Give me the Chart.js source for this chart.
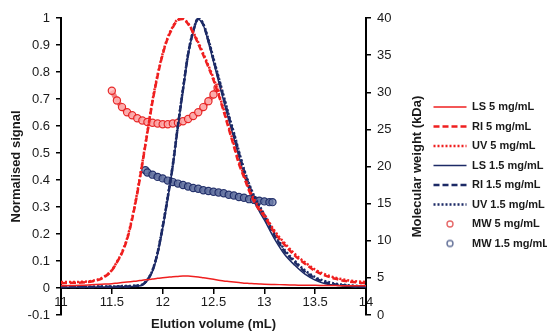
<!DOCTYPE html>
<html lang="en">
<head>
<meta charset="UTF-8">
<title>Elution profiles</title>
<script src="https://cdn.jsdelivr.net/npm/chart.js"></script>
<style>
  body { margin: 0; background: #fff; }
  .chart-box { width: 547px; height: 333px; position: relative; }
</style>
</head>
<body>
<div class="chart-box"><canvas id="chart"></canvas></div>
<script>
// elution volume grid (mL) shared by the detector traces
const elutionX = [11.0, 11.1, 11.2, 11.3, 11.4,
  11.5, 11.55, 11.6, 11.65, 11.7, 11.75, 11.8, 11.85, 11.9, 11.95,
  12.0, 12.05, 12.1, 12.15, 12.2, 12.25, 12.3, 12.35, 12.4, 12.45,
  12.5, 12.55, 12.6, 12.65, 12.7, 12.75, 12.8, 12.85, 12.9, 12.95, 13.0,
  13.1, 13.2, 13.3, 13.4, 13.5, 13.6, 13.7, 13.8, 13.9, 14.0];

// normalised signals, 5 mg/mL
const ls5 = [0.008, 0.009, 0.010, 0.012, 0.014,
  0.016, 0.018, 0.020, 0.022, 0.024, 0.026, 0.029, 0.031, 0.033, 0.036,
  0.038, 0.040, 0.042, 0.043, 0.044, 0.044, 0.043, 0.041, 0.038, 0.035,
  0.032, 0.029, 0.026, 0.024, 0.022, 0.020, 0.018, 0.017, 0.016, 0.015, 0.014,
  0.013, 0.012, 0.011, 0.010, 0.010, 0.009, 0.009, 0.008, 0.008, 0.008];
const ri5 = [0.018, 0.019, 0.020, 0.024, 0.035,
  0.065, 0.095, 0.13, 0.18, 0.255, 0.35, 0.46, 0.575, 0.69, 0.785,
  0.865, 0.925, 0.965, 0.993, 0.996, 0.978, 0.945, 0.905, 0.862, 0.818,
  0.77, 0.715, 0.655, 0.59, 0.525, 0.46, 0.41, 0.36, 0.32, 0.29, 0.265,
  0.205, 0.16, 0.12, 0.09, 0.063, 0.046, 0.034, 0.026, 0.021, 0.018];
const uv5 = [0.022, 0.022, 0.023, 0.026, 0.037,
  0.066, 0.097, 0.133, 0.184, 0.26, 0.355, 0.465, 0.58, 0.695, 0.79,
  0.868, 0.928, 0.968, 0.995, 0.997, 0.98, 0.948, 0.91, 0.868, 0.824,
  0.777, 0.722, 0.662, 0.598, 0.533, 0.468, 0.418, 0.368, 0.328, 0.297, 0.272,
  0.212, 0.166, 0.126, 0.095, 0.068, 0.05, 0.038, 0.03, 0.025, 0.022];

// normalised signals, 1.5 mg/mL
const ls15 = [0.003, 0.003, 0.003, 0.003, 0.004,
  0.004, 0.004, 0.005, 0.005, 0.006, 0.007, 0.011, 0.028, 0.062, 0.125,
  0.22, 0.33, 0.45, 0.595, 0.73, 0.86, 0.947, 0.994, 0.973, 0.91,
  0.838, 0.765, 0.693, 0.622, 0.556, 0.486, 0.42, 0.365, 0.32, 0.285, 0.252,
  0.182, 0.124, 0.084, 0.051, 0.029, 0.016, 0.010, 0.007, 0.005, 0.005];
const ri15 = [0.004, 0.004, 0.004, 0.004, 0.005,
  0.005, 0.005, 0.006, 0.006, 0.007, 0.008, 0.012, 0.03, 0.065, 0.13,
  0.225, 0.335, 0.455, 0.6, 0.735, 0.865, 0.95, 0.998, 0.975, 0.915,
  0.845, 0.775, 0.705, 0.635, 0.57, 0.5, 0.435, 0.38, 0.335, 0.3, 0.265,
  0.195, 0.135, 0.095, 0.06, 0.036, 0.021, 0.013, 0.009, 0.006, 0.005];
const uv15 = [0.005, 0.005, 0.005, 0.005, 0.006,
  0.006, 0.006, 0.007, 0.007, 0.008, 0.009, 0.013, 0.031, 0.066, 0.132,
  0.228, 0.338, 0.458, 0.603, 0.738, 0.867, 0.952, 0.998, 0.978, 0.92,
  0.85, 0.781, 0.711, 0.641, 0.576, 0.506, 0.441, 0.386, 0.341, 0.306, 0.271,
  0.201, 0.141, 0.1, 0.065, 0.04, 0.025, 0.016, 0.011, 0.008, 0.007];

// molecular weight (kDa), right axis
const mw5X = [11.50, 11.55, 11.60, 11.65, 11.70, 11.75, 11.80, 11.85, 11.90, 11.95, 12.00,
  12.05, 12.10, 12.15, 12.20, 12.25, 12.30, 12.35, 12.40, 12.45, 12.50, 12.54];
const mw5Y = [30.2, 28.9, 28.0, 27.3, 26.9, 26.5, 26.2, 26.0, 25.9, 25.8, 25.7,
  25.7, 25.8, 25.9, 26.1, 26.4, 26.8, 27.3, 28.0, 28.8, 29.7, 30.6];
const mw15X = [11.83, 11.85, 11.90, 11.95, 12.00, 12.05, 12.10, 12.15, 12.20, 12.25, 12.30,
  12.35, 12.40, 12.45, 12.50, 12.55, 12.60, 12.65, 12.70, 12.75, 12.80, 12.85, 12.90,
  12.95, 13.00, 13.05, 13.08];
const mw15Y = [19.5, 19.2, 18.9, 18.6, 18.4, 18.1, 17.9, 17.7, 17.5, 17.3, 17.1,
  17.0, 16.8, 16.7, 16.6, 16.5, 16.4, 16.2, 16.1, 15.9, 15.8, 15.6, 15.5,
  15.4, 15.3, 15.2, 15.2];

const red = '#ef1f1f';
const navy = '#1c2a66';
const textColor = '#1a1a1a';

Chart.defaults.font.family = '"Liberation Sans", Arial, sans-serif';
Chart.defaults.color = textColor;

function pts(xs, ys) {
  return xs.map((x, i) => ({ x: x, y: ys[i] }));
}

// small hollow circle used as the legend marker of the MW series
function circleIcon(color) {
  const c = document.createElement('canvas');
  c.width = 10;
  c.height = 10;
  const g = c.getContext('2d');
  g.strokeStyle = color;
  g.lineWidth = 1.4;
  g.beginPath();
  g.arc(5, 5, 3, 0, Math.PI * 2);
  g.stroke();
  return c;
}

function trace(label, data, color, width, dash) {
  return {
    label: label,
    data: data,
    borderColor: color,
    backgroundColor: color,
    borderWidth: width,
    borderDash: dash,
    pointRadius: 0,
    cubicInterpolationMode: 'monotone',
    yAxisID: 'y'
  };
}

function mwSeries(label, data, line, edge, fill, icon) {
  return {
    label: label,
    data: data,
    yAxisID: 'y2',
    showLine: true,
    borderColor: line,
    borderWidth: 5,
    cubicInterpolationMode: 'monotone',
    pointRadius: 3.6,
    pointBorderWidth: 1.2,
    pointBorderColor: edge,
    pointBackgroundColor: fill,
    legendIcon: icon
  };
}

// Excel-style right axis title reads bottom to top
const rightTitle = {
  id: 'rightTitle',
  afterDraw(chart) {
    const a = chart.chartArea;
    const ctx = chart.ctx;
    ctx.save();
    ctx.translate(417, (a.top + a.bottom) / 2);
    ctx.rotate(-Math.PI / 2);
    ctx.font = 'bold 13px "Liberation Sans", Arial, sans-serif';
    ctx.fillStyle = textColor;
    ctx.textAlign = 'center';
    ctx.textBaseline = 'middle';
    ctx.fillText('Molecular weight (kDa)', 0, 0);
    ctx.restore();
  }
};

// move the legend block to where it sits in the figure
const legendPlace = {
  id: 'legendPlace',
  afterLayout(chart) {
    const lg = chart.legend;
    lg.left = 425;
    lg.right = 547;
    lg.top = 93;
    lg.bottom = 333;
  }
};

const axisLine = { color: '#000', width: 2 };
const tickFont = { size: 13 };
const titleFont = { size: 13, weight: 'bold' };

new Chart(document.getElementById('chart'), {
  type: 'line',
  data: {
    datasets: [
      trace('LS 5 mg/mL', pts(elutionX, ls5), red, 1.5, []),
      trace('RI 5 mg/mL', pts(elutionX, ri5), red, 2.5, [6, 3]),
      trace('UV 5 mg/mL', pts(elutionX, uv5), red, 2.5, [2, 2]),
      trace('LS 1.5 mg/mL', pts(elutionX, ls15), navy, 1.5, []),
      trace('RI 1.5 mg/mL', pts(elutionX, ri15), navy, 2.5, [6, 3]),
      trace('UV 1.5 mg/mL', pts(elutionX, uv15), navy, 2.5, [2, 2]),
      mwSeries('MW 5 mg/mL', pts(mw5X, mw5Y), 'rgba(235, 45, 45, 0.6)',
        'rgba(230, 30, 30, 0.95)', 'rgba(255, 185, 185, 0.75)', circleIcon('#e66a6a')),
      mwSeries('MW 1.5 mg/mL', pts(mw15X, mw15Y), 'rgba(28, 42, 102, 0.65)',
        'rgba(28, 42, 102, 0.95)', 'rgba(110, 125, 170, 0.75)', circleIcon('#66739a'))
    ]
  },
  options: {
    responsive: true,
    maintainAspectRatio: false,
    animation: false,
    layout: { padding: { top: 18, bottom: 18, left: 0, right: 0 } },
    plugins: {
      tooltip: { enabled: false },
      legend: {
        position: 'right',
        align: 'start',
        labels: {
          usePointStyle: true,
          pointStyleWidth: 33,
          padding: 8.5,
          color: textColor,
          font: { size: 11, weight: 'bold' },
          generateLabels(chart) {
            const items = Chart.defaults.plugins.legend.labels.generateLabels(chart);
            items.forEach(item => {
              const ds = chart.data.datasets[item.datasetIndex];
              if (ds.legendIcon) {
                item.pointStyle = ds.legendIcon;
              } else {
                item.pointStyle = 'line';
                item.strokeStyle = ds.borderColor;
                item.lineWidth = ds.borderWidth;
                item.lineDash = ds.borderDash;
              }
            });
            return items;
          }
        }
      }
    },
    scales: {
      x: {
        type: 'linear',
        min: 11,
        max: 14,
        position: { y: 0 },
        ticks: {
          stepSize: 0.5,
          font: tickFont,
          color: textColor,
          padding: 2,
          maxRotation: 0,
          callback: v => String(Math.round(v * 10) / 10)
        },
        grid: { drawOnChartArea: false, tickLength: 5, color: '#000', lineWidth: 1.5 },
        border: axisLine,
        title: { display: true, text: 'Elution volume (mL)', font: titleFont, color: textColor,
          padding: { top: 4, bottom: 0 } }
      },
      y: {
        position: 'left',
        min: -0.1,
        max: 1,
        ticks: {
          stepSize: 0.1,
          font: tickFont,
          color: textColor,
          padding: 6,
          callback: v => String(Math.round(v * 10) / 10)
        },
        grid: { drawOnChartArea: false, tickLength: 5, color: '#000', lineWidth: 1.5 },
        border: axisLine,
        title: { display: true, text: 'Normalised signal', font: titleFont, color: textColor,
          padding: { top: 9, bottom: 0 } },
        afterFit(s) { s.width = 61; }
      },
      y2: {
        position: 'right',
        min: 0,
        max: 40,
        ticks: { stepSize: 5, font: tickFont, color: textColor, padding: 6 },
        grid: { drawOnChartArea: false, tickLength: 5, color: '#000', lineWidth: 1.5 },
        border: axisLine,
        afterFit(s) {
          const lw = s.chart.legend ? s.chart.legend.width : 0;
          s.width = 547 - 366 - lw;
        }
      }
    }
  },
  plugins: [rightTitle, legendPlace]
});
</script>
</body>
</html>
